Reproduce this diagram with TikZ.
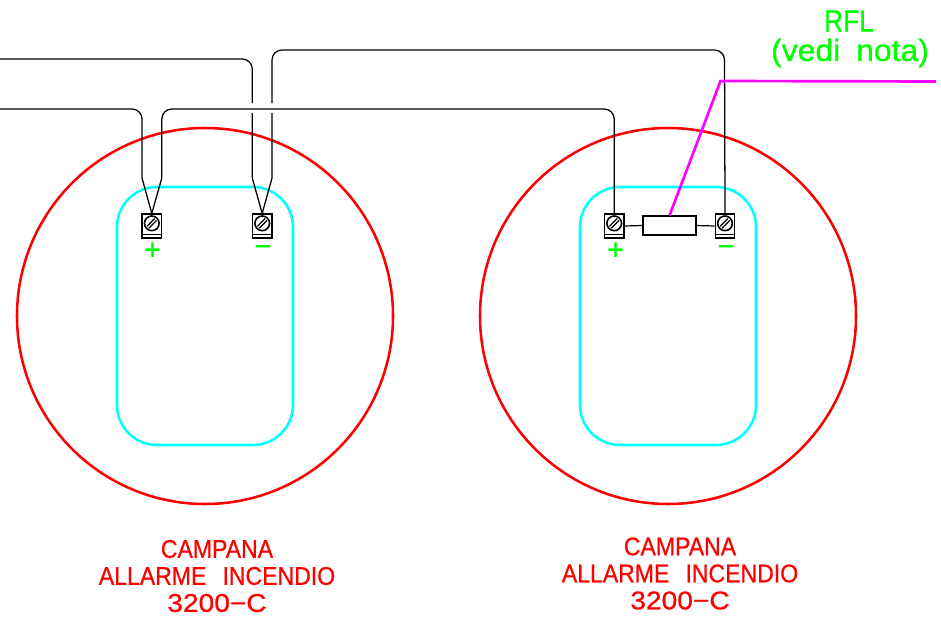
\documentclass[tikz,border=0pt]{standalone}
\usepackage{fontspec}
\setmainfont{Liberation Sans}
\newfontfamily\cadfont[FakeBold=0.7]{Liberation Sans}
\definecolor{cadred}{RGB}{255,0,0}
\definecolor{cadcyan}{RGB}{0,255,255}
\definecolor{cadgreen}{RGB}{0,255,0}
\definecolor{cadmag}{RGB}{255,0,255}
\tikzset{
  bell/.style={circle,draw=cadred,line width=1.9pt,minimum size=282pt,inner sep=0pt},
  plate/.style={rectangle,draw=cadcyan,line width=1.9pt,rounded corners=30pt,minimum width=132pt,minimum height=193.5pt,inner sep=0pt},
  terminal/.style={rectangle,draw=black,line width=0.9pt,minimum width=14.6pt,minimum height=18pt,inner sep=0pt},
  screw/.style={circle,draw=black,line width=1.2pt,minimum size=11pt,inner sep=0pt},
  resistor/.style={rectangle,draw=black,line width=0.9pt,minimum width=39.8pt,minimum height=14.2pt,inner sep=0pt},
  wire/.style={draw=black,line width=0.95pt,rounded corners=7.5pt},
  lead/.style={draw=black,line width=0.9pt},
  rfl/.style={draw=cadmag,line width=2pt},
  redtext/.style={text=cadred,inner sep=0pt,font=\cadfont\fontsize{19.2}{20}\selectfont},
  greentext/.style={text=cadgreen,inner sep=0pt,font=\cadfont\fontsize{23}{24}\selectfont},
  polarity/.style={text=cadgreen,inner sep=0pt,font=\cadfont\fontsize{22}{22}\selectfont}
}
\newcommand{\termblock}[2]{%
  \node[terminal] (#1) at #2 {};
  \draw[lead] ([yshift=3.1pt]#1.south west) -- ([yshift=3.1pt]#1.south east);
  \node[screw] (#1s) at ([yshift=2pt]#1.center) {};
  \draw[draw=black,line width=0.9pt] ([xshift=-3.6pt,yshift=-2.2pt]#1s.center) -- ([xshift=2.2pt,yshift=3.6pt]#1s.center);
  \draw[draw=black,line width=0.9pt] ([xshift=-2.2pt,yshift=-3.6pt]#1s.center) -- ([xshift=3.6pt,yshift=2.2pt]#1s.center);
}
\begin{document}
\begin{tikzpicture}[x=0.75pt,y=-0.75pt]
\useasboundingbox (0,0) rectangle (941,617);
% bells and plates
\node[bell] (bellA) at (205,316) {};
\node[bell] (bellB) at (668,316) {};
\node[plate] (plateA) at (205,316) {};
\node[plate] (plateB) at (668,316) {};
% terminals
\termblock{ap}{(151.8,226)}
\termblock{am}{(262.2,226)}
\termblock{bp}{(614.2,226)}
\termblock{bm}{(725,226)}
% polarity
\node[polarity] at (152.5,251) {+};
\node[polarity] at (263,250.5) {−};
\node[polarity] at (615.5,251) {+};
\node[polarity] at (726,250.5) {−};
% resistor
\node[resistor] (res) at (669.5,225.5) {};
\draw[lead] (bp.east) -- (res.west);
\draw[lead] (res.east) -- (bm.west);
% free ends
\coordinate (inA) at (0,59);
\coordinate (inB) at (0,109);
\coordinate (rflEnd) at (936,81.5);
% wires
\draw[wire] (inA) -- (252.3,59) -- (252.3,103);
\draw[wire,sharp corners] (252.3,113) -- (252.3,178) -- (am.north);
\draw[wire,sharp corners] (am.north) -- (272,178) -- (272,113);
\draw[wire] (272,103) -- (272,50) -- (724.5,50) -- (bm.north);
\draw[wire] (inB) -- (142,109) -- (142,170);
\draw[wire,sharp corners] (142,170) -- (142,178) -- (ap.north);
\draw[wire,sharp corners] (ap.north) -- (161.8,178) -- (161.8,170);
\draw[wire] (161.8,170) -- (161.8,109) -- (614.2,109) -- (bp.north);
% RFL line
\draw[rfl] (res.north) -- (720.5,81) -- (rflEnd);
% labels
\node[redtext] (ca1) at (217,549) {\scalebox{0.9}[1]{CAMPANA}};
\node[redtext] (ca2) at (217,576) {\scalebox{0.9}[1]{ALLARME\hspace{0.7em}INCENDIO}};
\node[redtext] (ca3) at (217,603) {\scalebox{1.1}[1]{3200−C}};
\node[redtext] (cb1) at (680,546.5) {\scalebox{0.9}[1]{CAMPANA}};
\node[redtext] (cb2) at (680,573.5) {\scalebox{0.9}[1]{ALLARME\hspace{0.7em}INCENDIO}};
\node[redtext] (cb3) at (680,600.5) {\scalebox{1.1}[1]{3200−C}};
\node[greentext] (rfl1) at (849,21) {\scalebox{0.86}[1]{RFL}};
\node[greentext] (rfl2) at (850,53) {\scalebox{1.04}[1]{(vedi\hspace{0.5em}nota)}};
\end{tikzpicture}
\end{document}
